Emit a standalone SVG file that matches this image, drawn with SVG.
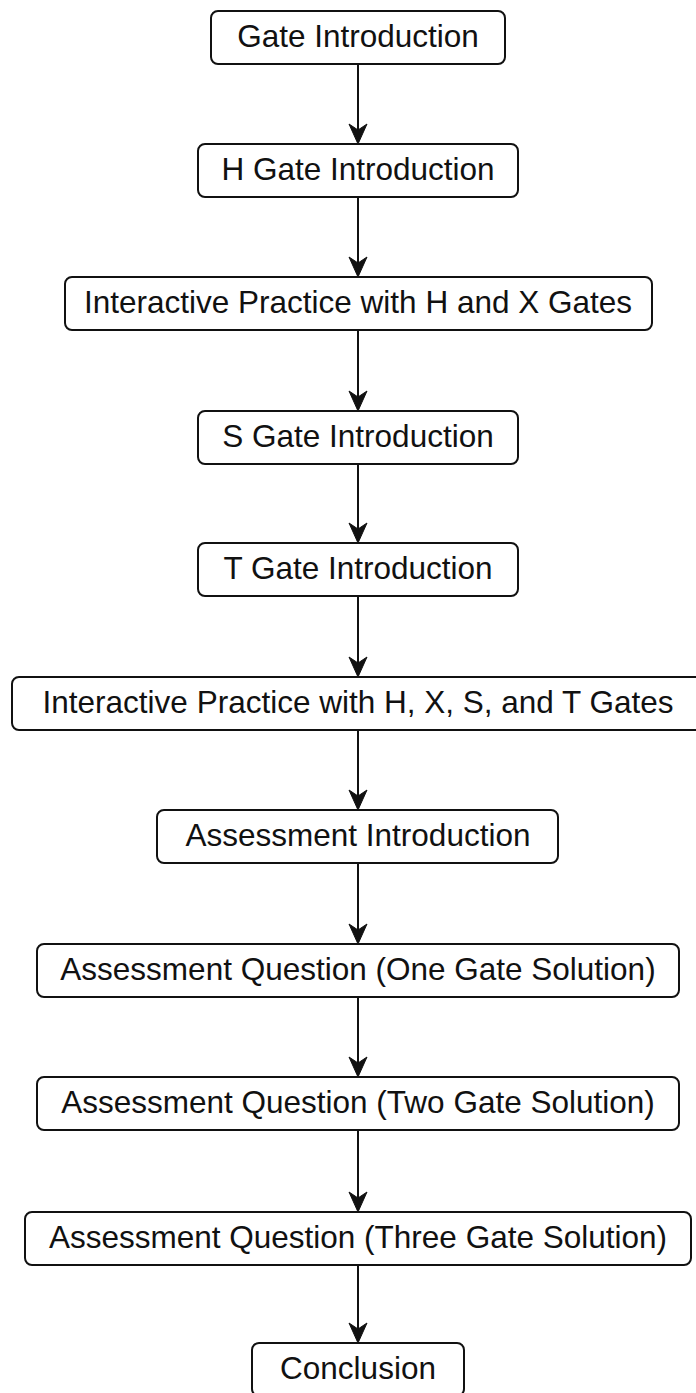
<svg xmlns="http://www.w3.org/2000/svg" width="696" height="1393" viewBox="0 0 696 1393">
<style>
.box{fill:#fff;stroke:#111;stroke-width:2}
.lbl{font-family:"Liberation Sans",Arial,Helvetica,sans-serif;font-size:31.5px;fill:#111;text-anchor:middle}
.edge{stroke:#111;stroke-width:2;fill:none}
.head{fill:#111;stroke:#111;stroke-width:1}
</style>
<rect width="696" height="1393" fill="#fff"/>
<g id="connectors">
<line class="edge" x1="358" y1="64" x2="358" y2="132"/><polygon class="head" points="358,144 349,124 358,130 367,124"/>
<line class="edge" x1="358" y1="197" x2="358" y2="265"/><polygon class="head" points="358,277 349,257 358,263 367,257"/>
<line class="edge" x1="358" y1="330" x2="358" y2="399"/><polygon class="head" points="358,411 349,391 358,397 367,391"/>
<line class="edge" x1="358" y1="464" x2="358" y2="531"/><polygon class="head" points="358,543 349,523 358,529 367,523"/>
<line class="edge" x1="358" y1="596" x2="358" y2="665"/><polygon class="head" points="358,677 349,657 358,663 367,657"/>
<line class="edge" x1="358" y1="730" x2="358" y2="798"/><polygon class="head" points="358,810 349,790 358,796 367,790"/>
<line class="edge" x1="358" y1="863" x2="358" y2="932"/><polygon class="head" points="358,944 349,924 358,930 367,924"/>
<line class="edge" x1="358" y1="997" x2="358" y2="1065"/><polygon class="head" points="358,1077 349,1057 358,1063 367,1057"/>
<line class="edge" x1="358" y1="1130" x2="358" y2="1200"/><polygon class="head" points="358,1212 349,1192 358,1198 367,1192"/>
<line class="edge" x1="358" y1="1265" x2="358" y2="1331"/><polygon class="head" points="358,1343 349,1323 358,1329 367,1323"/>
</g>
<g id="n1"><rect class="box" x="211" y="11" width="294" height="53" rx="7"/><text class="lbl" x="358" y="47">Gate Introduction</text></g>
<g id="n2"><rect class="box" x="198" y="144" width="320" height="53" rx="7"/><text class="lbl" x="358" y="180">H Gate Introduction</text></g>
<g id="n3"><rect class="box" x="65" y="277" width="587" height="53" rx="7"/><text class="lbl" x="358" y="313">Interactive Practice with H and X Gates</text></g>
<g id="n4"><rect class="box" x="198" y="411" width="320" height="53" rx="7"/><text class="lbl" x="358" y="447">S Gate Introduction</text></g>
<g id="n5"><rect class="box" x="198" y="543" width="320" height="53" rx="7"/><text class="lbl" x="358" y="579">T Gate Introduction</text></g>
<g id="n6"><rect class="box" x="12" y="677" width="692" height="53" rx="7"/><text class="lbl" x="358" y="713">Interactive Practice with H, X, S, and T Gates</text></g>
<g id="n7"><rect class="box" x="157" y="810" width="401" height="53" rx="7"/><text class="lbl" x="358" y="846">Assessment Introduction</text></g>
<g id="n8"><rect class="box" x="37" y="944" width="642" height="53" rx="7"/><text class="lbl" x="358" y="980">Assessment Question (One Gate Solution)</text></g>
<g id="n9"><rect class="box" x="37" y="1077" width="642" height="53" rx="7"/><text class="lbl" x="358" y="1113">Assessment Question (Two Gate Solution)</text></g>
<g id="n10"><rect class="box" x="25" y="1212" width="666" height="53" rx="7"/><text class="lbl" x="358" y="1248">Assessment Question (Three Gate Solution)</text></g>
<g id="n11"><rect class="box" x="252" y="1343" width="212" height="53" rx="7"/><text class="lbl" x="358" y="1379">Conclusion</text></g>
</svg>
